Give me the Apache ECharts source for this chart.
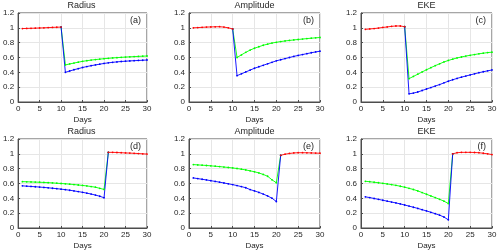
<!DOCTYPE html>
<html><head><meta charset="utf-8">
<script src="https://cdn.jsdelivr.net/npm/echarts@6/dist/echarts.min.js"></script>
<style>html,body{margin:0;padding:0;background:#fff}#c{width:500px;height:252px}</style>
</head><body><div id="c"></div>
<script>
// Data: days 1..30
const titles = ["Radius","Amplitude","EKE","Radius","Amplitude","EKE"];
const panelLabels = ["(a)","(b)","(c)","(d)","(e)","(f)"];
const xTicks = [0,5,10,15,20,25,30];
const yTicks = [0,0.2,0.4,0.6,0.8,1,1.2];

// Top row: red days 1-10, blue/green days 10-30 (day 10 shared)
const aRed   = [0.99,0.992,0.994,0.996,0.998,1.0,1.003,1.006,1.008,1.01];
const aBlue  = [1.01,0.40,0.418,0.435,0.45,0.465,0.478,0.49,0.50,0.51,0.52,0.528,0.535,0.541,0.546,0.55,0.554,0.557,0.56,0.563,0.566];
const aGreen = [1.01,0.50,0.513,0.525,0.537,0.548,0.557,0.565,0.572,0.578,0.584,0.589,0.594,0.598,0.602,0.606,0.609,0.612,0.615,0.618,0.62];

const bRed   = [1.0,1.003,1.007,1.01,1.012,1.014,1.015,1.01,1.0,0.985];
const bBlue  = [0.985,0.355,0.38,0.405,0.43,0.455,0.475,0.495,0.515,0.535,0.555,0.57,0.585,0.60,0.615,0.628,0.64,0.652,0.664,0.675,0.685];
const bGreen = [0.985,0.60,0.635,0.67,0.70,0.725,0.745,0.765,0.78,0.795,0.805,0.815,0.823,0.83,0.837,0.843,0.849,0.855,0.86,0.865,0.87];

const cRed   = [0.98,0.985,0.99,0.997,1.005,1.012,1.02,1.025,1.025,1.015];
const cBlue  = [1.015,0.11,0.12,0.135,0.155,0.175,0.195,0.215,0.235,0.258,0.28,0.30,0.318,0.335,0.35,0.365,0.38,0.395,0.408,0.42,0.432];
const cGreen = [1.015,0.315,0.345,0.375,0.405,0.435,0.463,0.49,0.515,0.54,0.56,0.578,0.594,0.607,0.619,0.63,0.64,0.65,0.658,0.666,0.672];

// Bottom row: blue/green days 1-21 (day 21 shared), red days 21-30
const dBlue  = [0.568,0.564,0.56,0.556,0.552,0.547,0.542,0.536,0.53,0.524,0.517,0.509,0.5,0.491,0.481,0.47,0.458,0.444,0.428,0.408,1.02];
const dGreen = [0.625,0.623,0.621,0.619,0.617,0.614,0.611,0.608,0.604,0.60,0.596,0.591,0.586,0.58,0.574,0.567,0.559,0.55,0.535,0.52,1.02];
const dRed   = [1.02,1.02,1.018,1.015,1.012,1.01,1.007,1.004,1.0,0.997];

const eBlue  = [0.675,0.666,0.657,0.648,0.638,0.628,0.618,0.607,0.596,0.585,0.572,0.558,0.543,0.518,0.50,0.48,0.458,0.432,0.402,0.357,0.98];
const eGreen = [0.855,0.851,0.847,0.843,0.838,0.833,0.828,0.822,0.816,0.81,0.802,0.793,0.783,0.771,0.758,0.742,0.722,0.698,0.65,0.61,0.98];
const eRed   = [0.98,0.995,1.005,1.012,1.015,1.015,1.014,1.012,1.01,1.008];

const fBlue  = [0.42,0.41,0.398,0.386,0.374,0.362,0.35,0.338,0.325,0.31,0.295,0.28,0.264,0.247,0.23,0.212,0.193,0.173,0.148,0.11,1.0];
const fGreen = [0.63,0.624,0.617,0.61,0.602,0.594,0.585,0.575,0.563,0.55,0.535,0.519,0.5,0.478,0.455,0.432,0.41,0.387,0.362,0.33,1.0];
const fRed   = [1.0,1.015,1.02,1.02,1.02,1.018,1.015,1.008,1.0,0.99];

const panels = [
  {red:aRed, redStart:1, blue:aBlue, green:aGreen, bgStart:10},
  {red:bRed, redStart:1, blue:bBlue, green:bGreen, bgStart:10},
  {red:cRed, redStart:1, blue:cBlue, green:cGreen, bgStart:10},
  {red:dRed, redStart:21, blue:dBlue, green:dGreen, bgStart:1},
  {red:eRed, redStart:21, blue:eBlue, green:eGreen, bgStart:1},
  {red:fRed, redStart:21, blue:fBlue, green:fGreen, bgStart:1}
];

const lefts = [16,189,361];
const tops = [13,139];
const W = 131, H = 89;
const font = "Liberation Sans, Arial, sans-serif";

const grid=[], xAxis=[], yAxis=[], series=[], title=[];
panels.forEach((p,i)=>{
  const col=i%3, row=Math.floor(i/3);
  grid.push({left:lefts[col], top:tops[row], width:W, height:H, show:true, borderColor:'#4d4d4d', borderWidth:1, backgroundColor:'#fff'});
  title.push({text:titles[i], left:lefts[col]+W/2, top:tops[row]-12, textAlign:'center', padding:0,
    textStyle:{fontSize:9, fontWeight:'normal', color:'#262626', fontFamily:font}});
  title.push({text:panelLabels[i], left:lefts[col]+W-6, top:tops[row]+3, textAlign:'right', padding:0,
    textStyle:{fontSize:9, fontWeight:'normal', color:'#262626', fontFamily:font}});
  xAxis.push({type:'value', gridIndex:i, min:0, max:30, interval:5,
    name:'Days', nameLocation:'middle', nameGap:14,
    nameTextStyle:{fontSize:8, color:'#262626', fontFamily:font},
    axisLine:{lineStyle:{color:'#4d4d4d'}}, axisTick:{inside:true, length:2, lineStyle:{color:'#4d4d4d'}},
    axisLabel:{fontSize:8, color:'#262626', margin:3, fontFamily:font,
      formatter:v=>xTicks.includes(v)?String(v):''},
    splitLine:{show:true, lineStyle:{color:'#e6e6e6', width:1}}});
  yAxis.push({type:'value', gridIndex:i, min:0, max:1.2, interval:0.2,
    axisLine:{show:true, lineStyle:{color:'#4d4d4d'}}, axisTick:{show:true, inside:true, length:2, lineStyle:{color:'#4d4d4d'}},
    axisLabel:{fontSize:8, color:'#262626', margin:4, fontFamily:font,
      formatter:v=>{const r=Math.round(v*10)/10; return yTicks.includes(r)?String(r):'';}},
    splitLine:{show:true, lineStyle:{color:'#e6e6e6', width:1}}});
  const mk=(arr,start,color,name)=>({type:'line', name, xAxisIndex:i, yAxisIndex:i,
    data:arr.map((v,k)=>[start+k, v]), symbol:'circle', symbolSize:1.8, showSymbol:true,
    lineStyle:{color, width:0.9}, itemStyle:{color}, animation:false, silent:true});
  series.push(mk(p.green,p.bgStart,'#00ff00','green'));
  series.push(mk(p.blue,p.bgStart,'#0000ff','blue'));
  series.push(mk(p.red,p.redStart,'#ff0000','red'));
});

const chart = echarts.init(document.getElementById('c'), null, {renderer:'canvas'});
chart.setOption({animation:false, backgroundColor:'#fff', title, grid, xAxis, yAxis, series});
</script></body></html>
